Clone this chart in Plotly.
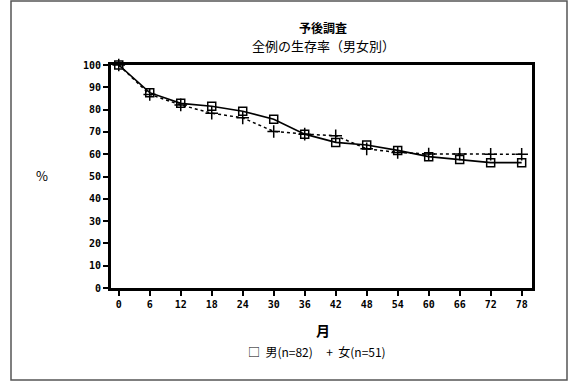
import plotly.graph_objects as go

months = [0, 6, 12, 18, 24, 30, 36, 42, 48, 54, 60, 66, 72, 78]
male = [100, 87.6, 82.8, 81.5, 79.3, 75.7, 69.0, 65.3, 64.1, 61.7, 58.9, 57.6, 56.2, 56.2]
female = [100, 86.8, 82.1, 78.4, 76.3, 70.2, 69.0, 68.3, 62.4, 60.8, 60.1, 60.1, 60.0, 60.0]
y_ticks = [0, 10, 20, 30, 40, 50, 60, 70, 80, 90, 100]

W, H = 574, 383
L, R, T, B = 111, 532, 65, 288

def px(x):
    return (x - L) / (R - L)

def py(y):
    return (B - y) / (B - T)

tickfont = dict(family="DejaVu Sans Mono", size=10, color="black")

fig = go.Figure()
fig.add_trace(go.Scatter(
    x=months, y=male, mode="lines+markers", name="男(n=82)",
    line=dict(color="black", width=1.6),
    marker=dict(symbol="square-open", size=8, color="black", line=dict(width=1.5)),
    showlegend=False, cliponaxis=False))
fig.add_trace(go.Scatter(
    x=months, y=female, mode="lines+markers", name="女(n=51)",
    line=dict(color="black", width=1.5, dash="dot"),
    marker=dict(symbol="cross-thin-open", size=9, color="black", line=dict(width=1.5, color="black")),
    showlegend=False, cliponaxis=False))

fig.update_layout(
    width=W, height=H,
    margin=dict(l=L, r=W - R, t=T, b=H - B),
    paper_bgcolor="white", plot_bgcolor="white",
    xaxis=dict(range=[-1.5, 80], tickvals=months, ticktext=[f"<b>{m}</b>" for m in months],
               showgrid=False, zeroline=False, showline=True, linecolor="black", linewidth=3,
               mirror=True, ticks="outside", ticklen=5, tickwidth=2, tickcolor="black",
               tickfont=tickfont),
    yaxis=dict(range=[0, 100], tickvals=y_ticks, ticktext=[f"<b>{v}</b>" for v in y_ticks],
               showgrid=False, zeroline=False, showline=True, linecolor="black", linewidth=3,
               mirror=True, ticks="outside", ticklen=5, tickwidth=2, tickcolor="black",
               tickfont=tickfont),
    font=dict(family="Noto Sans CJK JP", color="black"),
)

cjk = "Noto Sans CJK JP"
ann = [
    dict(text="<b>予後調査</b>", x=px(323), y=py(28), size=12),
    dict(text="全例の生存率（男女別）", x=px(323), y=py(46), size=13),
    dict(text="%", x=px(42), y=py(175), size=13),
    dict(text="<b>月</b>", x=px(323), y=py(330), size=14),
    dict(text="□  男(n=82)     +  女(n=51)", x=px(317), y=py(351), size=12),
]
for a in ann:
    fig.add_annotation(text=a["text"], x=a["x"], y=a["y"], xref="paper", yref="paper",
                       showarrow=False, xanchor="center", yanchor="middle",
                       font=dict(family=cjk, size=a["size"], color="black"))

fig.add_shape(type="rect", xref="paper", yref="paper",
              x0=px(11), x1=px(567), y0=py(380), y1=py(1),
              line=dict(color="#555555", width=1.5))

fig.write_html("out.html", config={"displayModeBar": False},
               post_script="document.body.style.margin='0';document.body.style.overflow='hidden';")
